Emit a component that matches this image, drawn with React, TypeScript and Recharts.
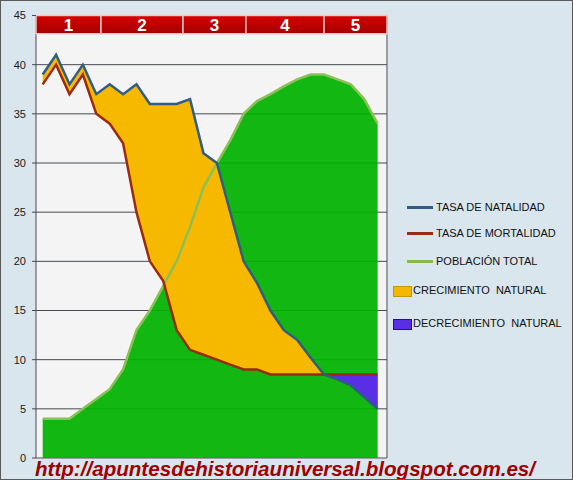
import React from "react";
import {
  ComposedChart,
  Area,
  Line,
  XAxis,
  YAxis,
  CartesianGrid,
  ReferenceArea,
} from "recharts";

// Demographic transition: 26 sample steps across the 5 phases
const pasos = [0, 1, 2, 3, 4, 5, 6, 7, 8, 9, 10, 11, 12, 13, 14, 15, 16, 17, 18, 19, 20, 21, 22, 23, 24, 25];
const natalidad = [39, 41, 38, 40, 37, 38, 37, 38, 36, 36, 36, 36.5, 31, 30, 25, 20, 17.8, 15, 13, 12, 10.2, 8.5, 8, 7.4, 6.2, 5];
const mortalidad = [38, 40, 37, 39, 35, 34, 32, 25, 20, 18, 13, 11, 10.5, 10, 9.5, 9, 9, 8.5, 8.5, 8.5, 8.5, 8.5, 8.5, 8.5, 8.5, 8.5];
const poblacion = [4, 4, 4, 5, 6, 7, 9, 13, 15, 17.5, 20, 23.5, 27.5, 30, 32.3, 35, 36.3, 37, 37.8, 38.5, 39, 39, 38.5, 38, 36.5, 34];

// the phase header and its boundaries (in step units)
const fases = ["1", "2", "3", "4", "5"];
const limitesFase = [-0.5, 4.35, 10.47, 15.17, 21, 25.7];
const cruce = 21; // where birth and death rates meet

const yTicks = [0, 5, 10, 15, 20, 25, 30, 35, 40, 45];

const data = pasos.map((p, i) => ({
  p,
  nat: natalidad[i],
  mort: mortalidad[i],
  pob: poblacion[i],
  crec: p <= cruce ? [mortalidad[i], natalidad[i]] : null,
  decrec: p >= cruce ? [natalidad[i], mortalidad[i]] : null,
}));

const FONT = "'Liberation Sans', Arial, sans-serif";

const legendLines = [
  { label: "TASA DE NATALIDAD", color: "#2f5d84", top: 207 },
  { label: "TASA DE MORTALIDAD", color: "#9a2a10", top: 233 },
  { label: "POBLACIÓN TOTAL", color: "#86b84e", top: 261 },
];
const legendBoxes = [
  { label: "CRECIMIENTO  NATURAL", color: "#f5b800", border: "#c99500", top: 290 },
  { label: "DECRECIMIENTO  NATURAL", color: "#5a2ee6", border: "#22157a", top: 323 },
];

export default function App() {
  return (
    <div
      style={{
        position: "absolute",
        left: 0,
        top: 0,
        width: 571,
        height: 478,
        background: "#d9e6ee",
        border: "1px solid #5a5a5a",
        fontFamily: FONT,
        overflow: "hidden",
      }}
    >
      {/* plot background */}
      <div
        style={{
          position: "absolute",
          left: 35,
          top: 15,
          width: 351,
          height: 443,
          background: "#f4f4f4",
          borderRight: "1px solid #eef3f6",
        }}
      />
      <div style={{ position: "absolute", left: -1, top: -1 }}>
        <ComposedChart
          width={573}
          height={480}
          data={data}
          margin={{ top: 15.5, right: 186, bottom: 22, left: 0 }}
          style={{ fontFamily: FONT }}
        >
          <defs>
            <linearGradient id="hdr" x1="0" y1="0" x2="0" y2="1">
              <stop offset="0%" stopColor="#d80000" />
              <stop offset="100%" stopColor="#a40000" />
            </linearGradient>
          </defs>
          <CartesianGrid stroke="#454b50" strokeWidth={1} />
          <XAxis
            dataKey="p"
            type="number"
            domain={[-0.5, 25.7]}
            ticks={limitesFase.slice(1, 5)}
            tick={false}
            tickLine={false}
            axisLine={false}
            height={0}
          />
          <YAxis
            type="number"
            domain={[0, 45]}
            ticks={yTicks}
            width={36}
            axisLine={false}
            tickLine={{ stroke: "#454b50" }}
            tickSize={4}
            tickMargin={6}
            tick={{ fontSize: 11, fill: "#1a1a1a" }}
          />
          <Area
            dataKey="pob"
            stroke="none"
            fill="#00b100"
            fillOpacity={0.93}
            isAnimationActive={false}
          />
          <Area
            dataKey="crec"
            stroke="none"
            fill="#f6b900"
            fillOpacity={1}
            isAnimationActive={false}
          />
          <Area
            dataKey="decrec"
            stroke="none"
            fill="#5a2ee6"
            fillOpacity={1}
            isAnimationActive={false}
          />
          <Line
            dataKey="pob"
            stroke="#8cbf55"
            strokeWidth={2.5}
            dot={false}
            isAnimationActive={false}
          />
          <Line
            dataKey="mort"
            stroke="#9a2a10"
            strokeWidth={2.5}
            dot={false}
            isAnimationActive={false}
          />
          <Line
            dataKey="nat"
            stroke="#2f5d84"
            strokeWidth={2.5}
            dot={false}
            isAnimationActive={false}
          />
          {fases.map((f, i) => (
            <ReferenceArea
              key={f}
              x1={limitesFase[i]}
              x2={limitesFase[i + 1]}
              y1={43.15}
              y2={45}
              fill="url(#hdr)"
              fillOpacity={1}
              stroke="#f2c4c4"
              strokeWidth={1.5}
              ifOverflow="visible"
              label={{
                value: f,
                position: "center",
                fill: "#fff",
                fontSize: 17,
                fontWeight: 700,
              }}
            />
          ))}
        </ComposedChart>
      </div>

      {legendLines.map((l) => (
        <div key={l.label}>
          <div
            style={{
              position: "absolute",
              left: 406,
              top: l.top - 2,
              width: 26,
              height: 3,
              background: l.color,
            }}
          />
          <div
            style={{
              position: "absolute",
              left: 435,
              top: l.top - 7,
              fontSize: 11,
              lineHeight: "13px",
              color: "#111",
              whiteSpace: "pre",
            }}
          >
            {l.label}
          </div>
        </div>
      ))}
      {legendBoxes.map((b) => (
        <div key={b.label}>
          <div
            style={{
              position: "absolute",
              left: 392,
              top: b.top - 5,
              width: 17,
              height: 9,
              background: b.color,
              border: `1px solid ${b.border}`,
            }}
          />
          <div
            style={{
              position: "absolute",
              left: 412,
              top: b.top - 7,
              fontSize: 11,
              lineHeight: "13px",
              color: "#111",
              whiteSpace: "pre",
            }}
          >
            {b.label}
          </div>
        </div>
      ))}

      <div
        style={{
          position: "absolute",
          left: 34,
          top: 456,
          fontSize: 20.6,
          lineHeight: "23px",
          fontWeight: 700,
          fontStyle: "italic",
          color: "#a00000",
          whiteSpace: "nowrap",
        }}
      >
        http://apuntesdehistoriauniversal.blogspot.com.es/
      </div>
    </div>
  );
}
